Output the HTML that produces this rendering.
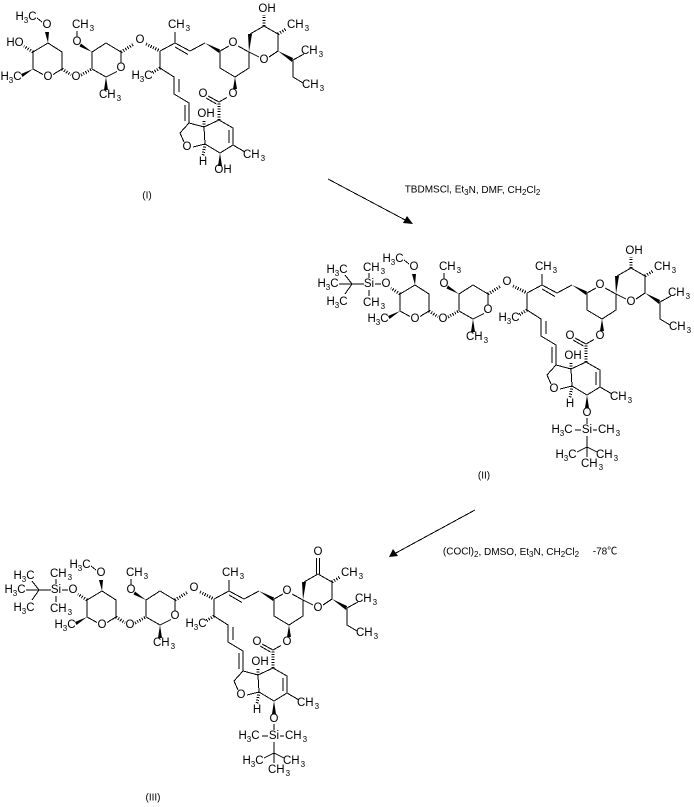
<!DOCTYPE html>
<html><head><meta charset="utf-8"><style>
html,body{margin:0;padding:0;background:#fff}
svg{display:block}
text{font-family:"Liberation Sans",Arial,sans-serif;font-size:11.5px;fill:#000;text-anchor:middle;dominant-baseline:central}
tspan.s{font-size:8px}
.b{fill:none;stroke:#000;stroke-width:1;shape-rendering:crispEdges}
.h{fill:none;stroke:#000;stroke-width:3;stroke-dasharray:1 1.6;shape-rendering:crispEdges}
.w{fill:#000;stroke:none}
</style></head><body>
<svg xmlns="http://www.w3.org/2000/svg" width="694" height="807" viewBox="0 0 694 807">
<defs>
<g id="m">
<path class="b" d="M48 43L62 52L62 69L53 74.5M43 74.5L33 69L33 52L48 43M42 22L37 18M92 69L92 52L106 43L121 52L121 63M117 71.500L106 77L92 69M77 37L77 31M160 51L175 43L190 51L205 43M175 47L188 54.500M175 43L175 32M160 51L160 68L174 77L174 94L189 103L189 123L204 127L219 120L233 128L233 145L220 153L205 144L204 127M179 79L179 92M185 105L185 121M229 130L229 143M233 145L245 152M205 144L193 147M184 142L180 133L189 123M219 102L227 97.500M219 102L208 96M216.500 104L206 98M220 51L229 46M238 46L249 52L249 68L235 77L220 68L220 51M249 52L259 57M269 57L278 51L278 34L264 26L250 34M293 60L304 54M293 60L293 77L303 83"/>
<path class="h" d="M33 52L24 46M62 69L71 75M81 75L92 69M121 52L134 44M146 44L160 51M160 68L152 73M205 144L203 156M219 120L219 103M204 127L204 120M278 34L286 29"/>
<polygon class="w" points="33,69 21,74 22.500,77"/>
<polygon class="w" points="48,43 45,32 49,32"/>
<polygon class="w" points="106,77 104,90 108,90"/>
<polygon class="w" points="92,52 81,43.500 79.500,46.500"/>
<polygon class="w" points="205,43 220,49.500 219,53"/>
<polygon class="w" points="220,153 218,166 222,166"/>
<polygon class="w" points="235,77 233,89 237,89"/>
<polygon class="w" points="249,52 248,34 252,34"/>
<polygon class="w" points="278,51 293,58 292,62"/>
</g>
<g id="t1">
<path class="b" d="M8 42L14 42M2 36L2 31M2 48L2 54M-3 42L-28 42M-15 42L-22 33M-15 42L-22 52"/>
</g>
<g id="t2">
<path class="b" d="M220 176L220 182M214 188L208 188M226 188L230 188M220 194L220 205L210 210M220 205L230 210M220 205L220 215"/>
</g>
</defs>

<!-- I -->
<g transform="translate(0,0)">
<use href="#m"/>
<path class="h" d="M264 26L264 15"/>
<text x="26" y="17">H<tspan class="s" dy="3">3</tspan><tspan dy="-3">C</tspan></text>
<text x="47" y="25">O</text><text x="76" y="77">O</text><text x="48" y="77">O</text><text x="121" y="68">O</text><text x="77" y="42">O</text>
<text x="83" y="25">CH<tspan class="s" dy="3" dx="1">3</tspan></text>
<text x="11" y="77">H<tspan class="s" dy="3">3</tspan><tspan dy="-3">C</tspan></text>
<text x="110" y="95">CH<tspan class="s" dy="3" dx="1">3</tspan></text>
<text x="140" y="40">O</text>
<text x="179" y="25">CH<tspan class="s" dy="3" dx="1">3</tspan></text>
<text x="142" y="76">H<tspan class="s" dy="3">3</tspan><tspan dy="-3">C</tspan></text>
<text x="233" y="43">O</text><text x="264" y="60">O</text>
<text x="298" y="25">CH<tspan class="s" dy="3" dx="1">3</tspan></text>
<text x="312" y="51">CH<tspan class="s" dy="3" dx="1">3</tspan></text>
<text x="313" y="85">CH<tspan class="s" dy="3" dx="1">3</tspan></text>
<text x="233" y="94">O</text><text x="203" y="94">O</text><text x="206" y="114">OH</text><text x="187" y="147">O</text><text x="203" y="162">H</text>
<text x="254" y="155">CH<tspan class="s" dy="3" dx="1">3</tspan></text>
<text x="15" y="43">HO</text><text x="267" y="9">OH</text><text x="223" y="170">OH</text>
</g>
<text x="147" y="196" style="font-size:10px">(I)</text>

<!-- II -->
<g transform="translate(367,242)">
<use href="#m"/><use href="#t1"/><use href="#t2"/>
<path class="h" d="M264 26L264 15"/>
<text x="26" y="17">H<tspan class="s" dy="3">3</tspan><tspan dy="-3">C</tspan></text>
<text x="47" y="25">O</text><text x="76" y="77">O</text><text x="48" y="77">O</text><text x="121" y="68">O</text><text x="77" y="42">O</text>
<text x="83" y="25">CH<tspan class="s" dy="3" dx="1">3</tspan></text>
<text x="11" y="77">H<tspan class="s" dy="3">3</tspan><tspan dy="-3">C</tspan></text>
<text x="110" y="95">CH<tspan class="s" dy="3" dx="1">3</tspan></text>
<text x="140" y="40">O</text>
<text x="179" y="25">CH<tspan class="s" dy="3" dx="1">3</tspan></text>
<text x="142" y="76">H<tspan class="s" dy="3">3</tspan><tspan dy="-3">C</tspan></text>
<text x="233" y="43">O</text><text x="264" y="60">O</text>
<text x="298" y="25">CH<tspan class="s" dy="3" dx="1">3</tspan></text>
<text x="312" y="51">CH<tspan class="s" dy="3" dx="1">3</tspan></text>
<text x="313" y="85">CH<tspan class="s" dy="3" dx="1">3</tspan></text>
<text x="233" y="94">O</text><text x="203" y="94">O</text><text x="206" y="114">OH</text><text x="187" y="147">O</text><text x="203" y="162">H</text>
<text x="254" y="155">CH<tspan class="s" dy="3" dx="1">3</tspan></text>
<text x="267" y="9">OH</text>
<text x="19" y="42">O</text><text x="2" y="42">Si</text>
<text x="7" y="26">CH<tspan class="s" dy="3" dx="1">3</tspan></text>
<text x="7" y="61">CH<tspan class="s" dy="3" dx="1">3</tspan></text>
<text x="-30" y="28">H<tspan class="s" dy="3">3</tspan><tspan dy="-3">C</tspan></text>
<text x="-39" y="42">H<tspan class="s" dy="3">3</tspan><tspan dy="-3">C</tspan></text>
<text x="-30" y="60">H<tspan class="s" dy="3">3</tspan><tspan dy="-3">C</tspan></text>
<text x="220" y="171">O</text><text x="220" y="188">Si</text>
<text x="195" y="188">H<tspan class="s" dy="3">3</tspan><tspan dy="-3">C</tspan></text>
<text x="242" y="188">CH<tspan class="s" dy="3" dx="1">3</tspan></text>
<text x="199" y="213">H<tspan class="s" dy="3">3</tspan><tspan dy="-3">C</tspan></text>
<text x="240" y="213">CH<tspan class="s" dy="3" dx="1">3</tspan></text>
<text x="225" y="222">CH<tspan class="s" dy="3" dx="1">3</tspan></text>
</g>
<text x="484" y="476" style="font-size:10px">(II)</text>

<!-- III -->
<g transform="translate(54,548)">
<use href="#m"/><use href="#t1"/><use href="#t2"/>
<path class="b" d="M262.500 26L262.500 10M265.500 26L265.500 10"/>
<text x="26" y="17">H<tspan class="s" dy="3">3</tspan><tspan dy="-3">C</tspan></text>
<text x="47" y="25">O</text><text x="76" y="77">O</text><text x="48" y="77">O</text><text x="121" y="68">O</text><text x="77" y="42">O</text>
<text x="83" y="25">CH<tspan class="s" dy="3" dx="1">3</tspan></text>
<text x="11" y="77">H<tspan class="s" dy="3">3</tspan><tspan dy="-3">C</tspan></text>
<text x="110" y="95">CH<tspan class="s" dy="3" dx="1">3</tspan></text>
<text x="140" y="40">O</text>
<text x="179" y="25">CH<tspan class="s" dy="3" dx="1">3</tspan></text>
<text x="142" y="76">H<tspan class="s" dy="3">3</tspan><tspan dy="-3">C</tspan></text>
<text x="233" y="43">O</text><text x="264" y="60">O</text>
<text x="298" y="25">CH<tspan class="s" dy="3" dx="1">3</tspan></text>
<text x="312" y="51">CH<tspan class="s" dy="3" dx="1">3</tspan></text>
<text x="313" y="85">CH<tspan class="s" dy="3" dx="1">3</tspan></text>
<text x="233" y="94">O</text><text x="203" y="94">O</text><text x="206" y="114">OH</text><text x="187" y="147">O</text><text x="203" y="162">H</text>
<text x="254" y="155">CH<tspan class="s" dy="3" dx="1">3</tspan></text>
<text x="264" y="4">O</text>
<text x="19" y="42">O</text><text x="2" y="42">Si</text>
<text x="7" y="26">CH<tspan class="s" dy="3" dx="1">3</tspan></text>
<text x="7" y="61">CH<tspan class="s" dy="3" dx="1">3</tspan></text>
<text x="-30" y="28">H<tspan class="s" dy="3">3</tspan><tspan dy="-3">C</tspan></text>
<text x="-39" y="42">H<tspan class="s" dy="3">3</tspan><tspan dy="-3">C</tspan></text>
<text x="-30" y="60">H<tspan class="s" dy="3">3</tspan><tspan dy="-3">C</tspan></text>
<text x="220" y="171">O</text><text x="220" y="188">Si</text>
<text x="195" y="188">H<tspan class="s" dy="3">3</tspan><tspan dy="-3">C</tspan></text>
<text x="242" y="188">CH<tspan class="s" dy="3" dx="1">3</tspan></text>
<text x="199" y="213">H<tspan class="s" dy="3">3</tspan><tspan dy="-3">C</tspan></text>
<text x="240" y="213">CH<tspan class="s" dy="3" dx="1">3</tspan></text>
<text x="225" y="222">CH<tspan class="s" dy="3" dx="1">3</tspan></text>
</g>
<text x="153" y="798" style="font-size:10px">(III)</text>

<!-- arrows -->
<path class="b" d="M328 179L408 221.500"/>
<polygon class="w" points="413,224 403,223 407,216"/>
<path class="b" d="M475 510L394 554"/>
<polygon class="w" points="389,557 393,549 398,556"/>

<!-- reagents -->
<text x="472.500" y="190" style="font-size:10px">TBDMSCl, Et<tspan class="s" dy="2">3</tspan><tspan dy="-2">N, DMF, CH</tspan><tspan class="s" dy="2">2</tspan><tspan dy="-2">Cl</tspan><tspan class="s" dy="2">2</tspan></text>
<text x="511" y="552" style="font-size:10px">(COCl)<tspan class="s" dy="2">2</tspan><tspan dy="-2">, DMSO, Et</tspan><tspan class="s" dy="2">3</tspan><tspan dy="-2">N, CH</tspan><tspan class="s" dy="2">2</tspan><tspan dy="-2">Cl</tspan><tspan class="s" dy="2">2</tspan></text>
<text x="605" y="552" style="font-size:10px;font-family:'Liberation Sans','Noto Sans CJK SC',sans-serif">-78℃</text>
</svg>
</body></html>
